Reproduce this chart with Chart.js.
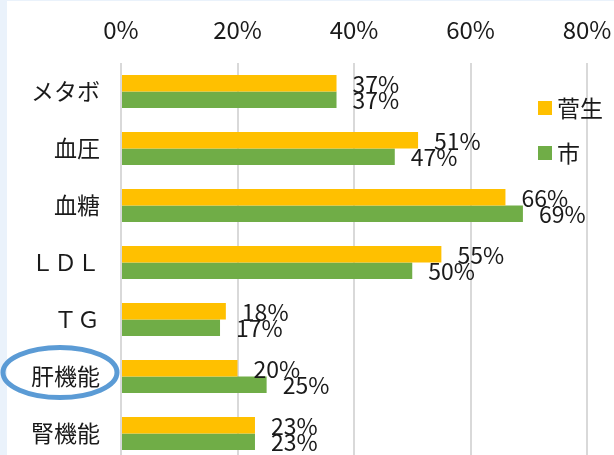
<!DOCTYPE html>
<html>
<head>
<meta charset="utf-8">
<script src="https://cdn.jsdelivr.net/npm/chart.js@4.4.1/dist/chart.umd.min.js"></script>
<style>
	html, body { margin: 0; padding: 0; overflow: hidden; background: #fff; }
	#wrap { position: absolute; left: 0; top: 0; width: 614px; height: 470px; }
</style>
</head>
<body>
<div id="wrap"><canvas id="chart" width="614" height="470"></canvas></div>
<script>
const categories = ['メタボ', '血圧', '血糖', 'ＬＤＬ', 'ＴＧ', '肝機能', '腎機能'];
const sugoValues = [37, 51, 66, 55, 18, 20, 23];
const cityValues = [37, 47, 69, 50, 17, 25, 23];
const seriesNames = ['菅生', '市'];
const seriesColors = ['#FFC000', '#70AD47'];
const highlightCategory = '肝機能';

const FONT = '"Noto Sans CJK JP", "Noto Sans", sans-serif';
const TEXT_COLOR = '#1a1a1a';

// background: white with the thin light blue strip on the left edge
const backgroundPlugin = {
	id: 'background',
	beforeDraw(chart) {
		const ctx = chart.ctx;
		ctx.save();
		ctx.fillStyle = '#ffffff';
		ctx.fillRect(0, 0, chart.width, chart.height);
		ctx.fillStyle = '#EAF2FB';
		ctx.fillRect(0, 0, 7, chart.height);
		ctx.fillRect(0, 0, chart.width, 1);
		ctx.restore();
	}
};

// value labels just past the end of each bar
const valueLabels = {
	id: 'valueLabels',
	afterDatasetsDraw(chart) {
		const ctx = chart.ctx;
		ctx.save();
		ctx.font = `23px ${FONT}`;
		ctx.fillStyle = TEXT_COLOR;
		ctx.textAlign = 'left';
		ctx.textBaseline = 'middle';
		chart.data.datasets.forEach((ds, i) => {
			chart.getDatasetMeta(i).data.forEach((bar, j) => {
				ctx.fillText(ds.data[j] + '%', bar.x + 16, bar.y + 1);
			});
		});
		ctx.restore();
	}
};

// legend inside the plot at the right, plus the blue ring round one category
const overlay = {
	id: 'overlay',
	afterDraw(chart) {
		const ctx = chart.ctx;
		ctx.save();
		ctx.font = `23px ${FONT}`;
		ctx.textAlign = 'left';
		ctx.textBaseline = 'middle';
		chart.data.datasets.forEach((ds, i) => {
			const cy = 108 + i * 45;
			ctx.fillStyle = ds.backgroundColor;
			ctx.fillRect(538, cy - 7, 14, 14);
			ctx.fillStyle = TEXT_COLOR;
			ctx.fillText(ds.label, 557, cy);
		});

		const y = chart.scales.y;
		const idx = categories.indexOf(highlightCategory);
		const cy = y.getPixelForValue(idx) - 4;
		ctx.strokeStyle = '#5B9BD5';
		ctx.lineWidth = 5;
		ctx.beginPath();
		ctx.ellipse(60, cy, 57, 25, 0, 0, Math.PI * 2);
		ctx.stroke();
		ctx.restore();
	}
};

new Chart(document.getElementById('chart'), {
	type: 'bar',
	data: {
		labels: categories,
		datasets: [
			{ label: seriesNames[0], data: sugoValues, backgroundColor: seriesColors[0] },
			{ label: seriesNames[1], data: cityValues, backgroundColor: seriesColors[1] }
		]
	},
	options: {
		indexAxis: 'y',
		responsive: false,
		animation: false,
		events: [],
		layout: { padding: { left: 0, top: 0, right: 27, bottom: 8 } },
		datasets: {
			bar: { categoryPercentage: 0.58, barPercentage: 1.0 }
		},
		plugins: {
			legend: { display: false },
			tooltip: { enabled: false }
		},
		scales: {
			x: {
				position: 'top',
				min: 0,
				max: 80,
				afterFit(scale) {
					scale.height = 63;
					scale.paddingLeft = 0;
					scale.paddingRight = 0;
				},
				ticks: {
					stepSize: 20,
					padding: 19,
					color: TEXT_COLOR,
					font: { family: FONT, size: 24 },
					callback: v => v + '%'
				},
				grid: { color: '#D9D9D9', lineWidth: 2, drawTicks: false },
				border: { display: false }
			},
			y: {
				afterFit(scale) {
					scale.width = 121;
					scale.paddingTop = 0;
					scale.paddingBottom = 0;
				},
				ticks: {
					padding: 21,
					color: TEXT_COLOR,
					font: { family: FONT, size: 23 }
				},
				grid: { display: false, drawTicks: false },
				border: { display: false }
			}
		}
	},
	plugins: [backgroundPlugin, valueLabels, overlay]
});
</script>
</body>
</html>
